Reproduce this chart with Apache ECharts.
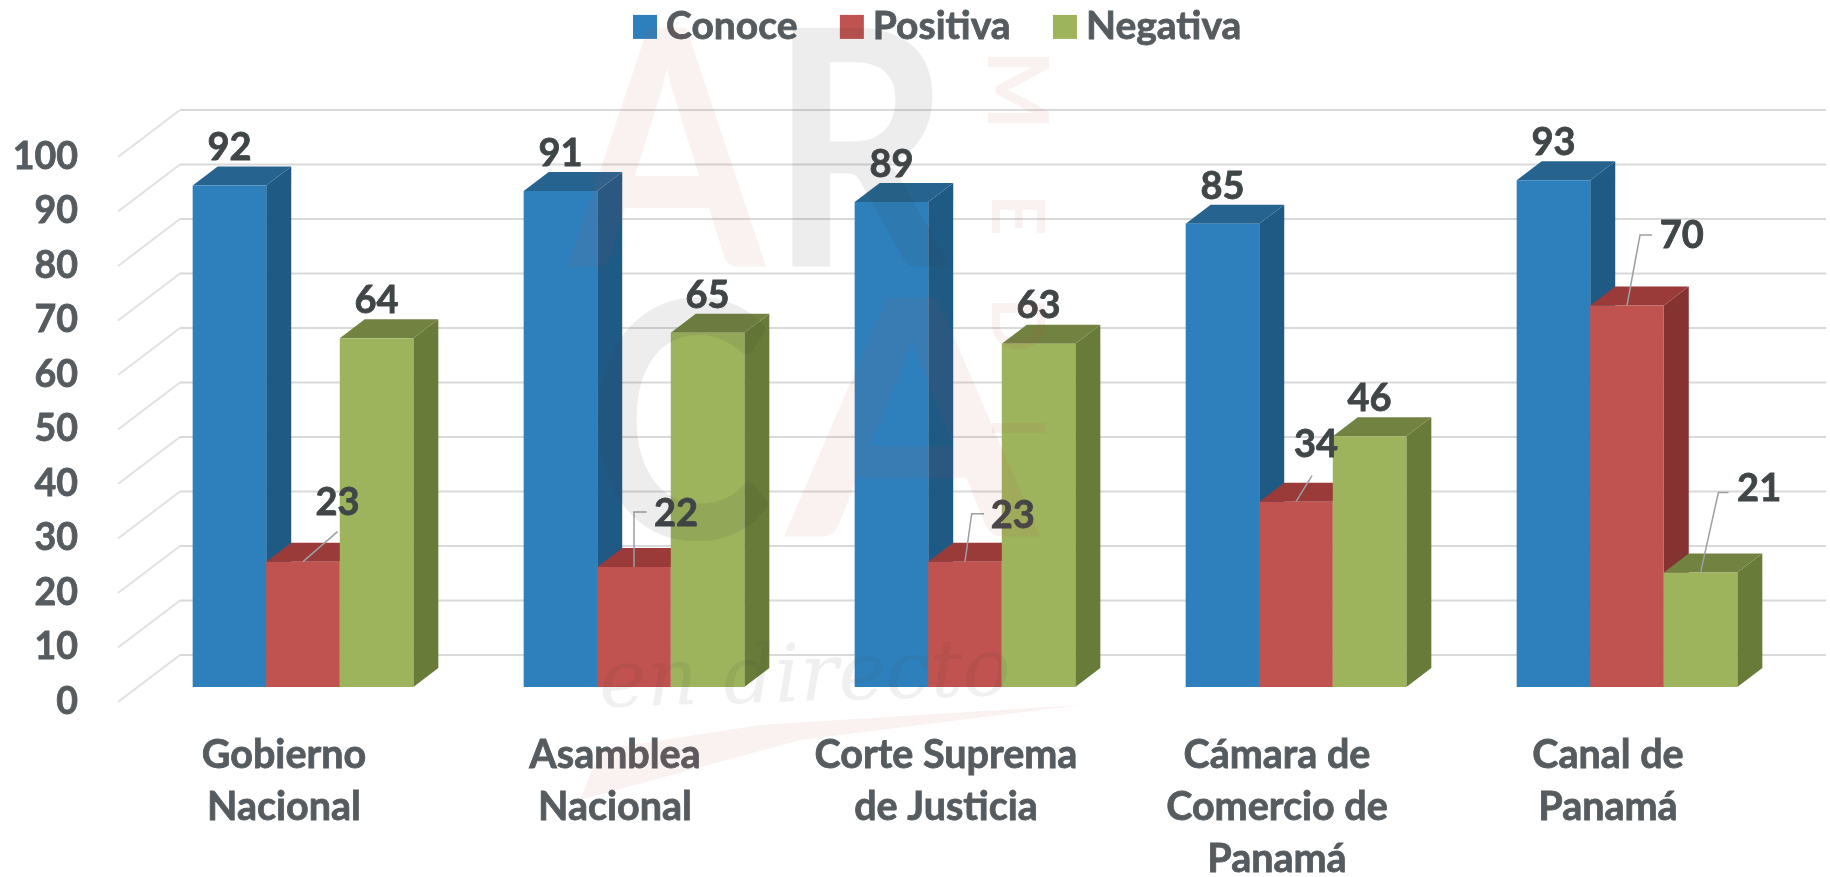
<!DOCTYPE html>
<html><head><meta charset="utf-8">
<style>html,body{margin:0;padding:0;background:#fff}#c{width:1830px;height:877px}</style>
<script src="https://cdn.jsdelivr.net/npm/echarts@6/dist/echarts.min.js"></script>
</head><body><div id="c"></div>
<script>
const categories = ['Gobierno\nNacional','Asamblea\nNacional','Corte Suprema\nde Justicia','Cámara de\nComercio de\nPanamá','Canal de\nPanamá'];
const conoce = [92,91,89,85,93];
const positiva = [23,22,23,34,70];
const negativa = [64,65,63,46,21];
const yTicks = [0,10,20,30,40,50,60,70,80,90,100];

const FONT = 'Lato, Carlito, "Open Sans", sans-serif';
const depthX = 25, depthY = -19;
const faces = {
  Conoce:   {front:'#2E80BC', top:'#26648F', side:'#1F5A85'},
  Positiva: {front:'#C0524F', top:'#9A3A39', side:'#843331'},
  Negativa: {front:'#9DB35C', top:'#728240', side:'#687B38'}
};
// label callouts, relative to the centre of the bar's front top edge: [label offset, leader points]
const defaultLabel = {label:[0,-37.5], leader:null};
const callouts = {
  Positiva: {
    0:{label:[34.5,-59], leader:[[34.5,-30]]},
    1:{label:[42,-53], leader:[[0,-55],[12.6,-55]]},
    2:{label:[47.7,-46], leader:[[6.7,-48],[19,-48]]},
    3:{label:[20,-57], leader:[[16,-26]]},
    4:{label:[54.7,-70], leader:[[13,-70.5],[25,-70.5]]}
  },
  Negativa: {
    4:{label:[58.6,-83.5], leader:[[17.8,-80],[28,-80]]}
  }
};

function barSeries(name, values, slot){
  const c = faces[name];
  return {
    name, type:'custom', coordinateSystem:'cartesian2d', clip:false,
    itemStyle:{color:c.front},
    encode:{x:0,y:1},
    data: values.map((v,i)=>[i,v]),
    renderItem(params, api){
      const cat = api.value(0), val = api.value(1);
      const band = api.size([1,0])[0];
      const w = band*2/9;
      const base = api.coord([cat,0]), topP = api.coord([cat,val]);
      const xl = base[0] + (slot-1.5)*w, xr = xl+w, yb = base[1], yt = topP[1];
      const cx = xl+w/2;
      const kids = [
        {type:'polygon', shape:{points:[[xr,yb],[xr+depthX,yb+depthY],[xr+depthX,yt+depthY],[xr,yt]]}, style:{fill:c.side}},
        {type:'polygon', shape:{points:[[xl,yt],[xl+depthX,yt+depthY],[xr+depthX,yt+depthY],[xr,yt]]}, style:{fill:c.top}},
        {type:'rect', shape:{x:xl,y:yt,width:w,height:yb-yt}, style:{fill:c.front}}
      ];
      const lay = (callouts[name] && callouts[name][cat]) || defaultLabel;
      if(lay.leader){
        kids.push({type:'polyline', z2:99, shape:{points:[[cx,yt]].concat(lay.leader.map(p=>[cx+p[0],yt+p[1]]))},
          style:{stroke:'#9AA0A3',lineWidth:1.5,fill:'none'}});
      }
      kids.push({type:'text', z2:100, style:{text:String(val), x:cx+lay.label[0], y:yt+lay.label[1],
        align:'center', verticalAlign:'middle', font:'bold 38px '+FONT, fill:'#404547', stroke:'#404547', lineWidth:0.8}});
      return {type:'group', children:kids};
    }
  };
}

const wallSeries = {
  name:'wall', type:'custom', coordinateSystem:'cartesian2d', clip:false, silent:true, z:1,
  data: yTicks.map(v=>[0,v]), encode:{x:0,y:1},
  renderItem(params, api){
    const g = params.coordSys, y = api.coord([0,api.value(1)])[1];
    const frontX = g.x-19.5, backX = g.x+42.5, endX = g.x+g.width+33.5;
    return {type:'group', children:[
      {type:'line', shape:{x1:frontX,y1:y+15,x2:backX,y2:y-32}, style:{stroke:'#E1E1E1',lineWidth:2}},
      {type:'line', shape:{x1:backX,y1:y-32,x2:endX,y2:y-32}, style:{stroke:'#D9D9D9',lineWidth:2}}
    ]};
  }
};

function mark(text,x,y,size,fill,extra){
  return Object.assign({type:'text', x, y, silent:true, z:200,
    style:{text, font:'bold '+size+'px '+FONT, fill, align:'center', verticalAlign:'middle'}}, extra||{});
}
const pink='rgba(192,80,77,0.08)', grey='rgba(60,60,60,0.09)';
const watermark = [
  mark('A',667,160,330,pink,{scaleX:0.85}),
  mark('R',860,160,330,grey,{scaleX:0.85}),
  mark('C',680,432,330,grey,{scaleX:0.85}),
  mark('A',912,430,330,pink,{scaleX:1.1}),
  mark('M',1015,90,84,pink,{rotation:-Math.PI/2}),
  mark('E',1015,215,72,pink,{rotation:-Math.PI/2}),
  mark('D',1015,325,72,pink,{rotation:-Math.PI/2}),
  mark('I',1015,428,72,pink,{rotation:-Math.PI/2}),
  {type:'text', x:805, y:680, silent:true, z:200, rotation:0.03,
   style:{text:'en directo', font:'italic 80px "DejaVu Serif", serif', fill:'rgba(60,60,60,0.08)', align:'center', verticalAlign:'middle'}},
  {type:'polygon', silent:true, z:200, shape:{points:[[580,800],[600,750],[760,725],[1080,705],[800,740]]}, style:{fill:pink}}
];

const axisText = {fontWeight:'bold', color:'#555B5E', fontFamily:FONT, textBorderColor:'#555B5E', textBorderWidth:0.8};
const chart = echarts.init(document.getElementById('c'));
chart.setOption({
  animation:false,
  backgroundColor:'#fff',
  textStyle:{fontFamily:FONT},
  legend:{
    left:628, top:2, itemWidth:24, itemHeight:24, itemGap:42, icon:'rect',
    data:['Conoce','Positiva','Negativa'],
    textStyle:Object.assign({fontSize:39, padding:[0,0,0,4]}, axisText)
  },
  grid:{left:137.5, top:142, width:1655, height:545, outerBoundsMode:'none'},
  xAxis:{
    type:'category', data:categories,
    axisLine:{show:false}, axisTick:{show:false}, splitLine:{show:false},
    axisLabel:Object.assign({interval:0, margin:42, fontSize:39.5, lineHeight:52, align:'center', padding:[0,38,0,0]}, axisText)
  },
  yAxis:{
    type:'value', min:0, max:100, interval:10,
    axisLine:{show:false}, axisTick:{show:false}, splitLine:{show:false},
    axisLabel:Object.assign({margin:59.5, fontSize:37.5, verticalAlign:'top', lineHeight:29}, axisText)
  },
  graphic:{elements:watermark},
  series:[wallSeries, barSeries('Conoce',conoce,0), barSeries('Positiva',positiva,1), barSeries('Negativa',negativa,2)]
});
</script></body></html>
